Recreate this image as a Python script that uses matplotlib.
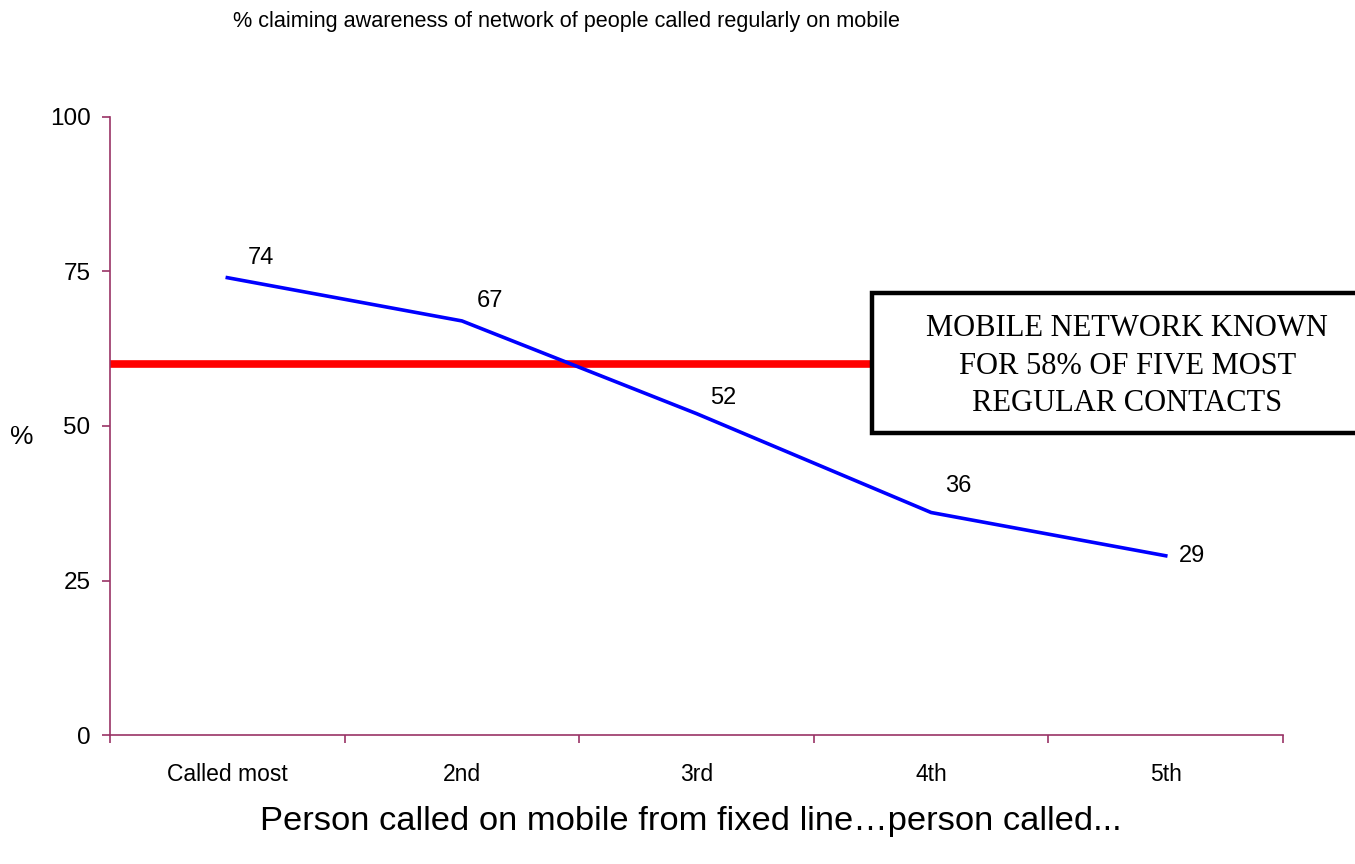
import matplotlib
matplotlib.use("Agg")
import matplotlib.pyplot as plt
from matplotlib.patches import Rectangle

# data
categories = ["Called most", "2nd", "3rd", "4th", "5th"]
values = [74, 67, 52, 36, 29]
average_line = 60
yticks = [0, 25, 50, 75, 100]
label_offsets = [(24, 14), (20, 14), (19.5, 11.5), (19.5, 19), (19, 0)]

axis_color = "#993366"

plt.rcParams["font.family"] = ["Liberation Sans", "DejaVu Sans"]

fig = plt.figure(figsize=(13.55, 8.64), dpi=100)
ax = fig.add_axes([0.0812, 0.1493, 0.8657, 0.7153])

x = list(range(1, len(categories) + 1))

ax.axhline(average_line, color="#FF0000", linewidth=5.5, zorder=2)
ax.plot(x, values, color="#0000FF", linewidth=2.6, zorder=3)

for xi, v, off in zip(x, values, label_offsets):
    ax.annotate(str(v), (xi, v), xytext=off, textcoords="offset points",
                ha="center", va="center", fontsize=17)

ax.set_xlim(0.5, 5.5)
ax.set_ylim(0, 100)
ax.set_yticks(yticks)
ax.set_xticks(x)
ax.set_xticklabels(categories, fontsize=16.5)
ax.set_xticks([0.5 + i for i in range(6)], minor=True)
ax.tick_params(axis="x", which="major", length=0, pad=20)
ax.tick_params(axis="x", which="minor", length=6, color=axis_color, width=1.2)
ax.tick_params(axis="y", length=6, color=axis_color, width=1.2, labelsize=17.5, pad=8)

for side in ["top", "right"]:
    ax.spines[side].set_visible(False)
for side in ["left", "bottom"]:
    ax.spines[side].set_color(axis_color)
    ax.spines[side].set_linewidth(1.2)

fig.text(0.0162, 0.494, "%", fontsize=19, ha="center", va="center")
fig.text(0.418, 0.975, "% claiming awareness of network of people called regularly on mobile",
         fontsize=15.6, ha="center", va="center")
fig.text(0.51, 0.049, "Person called on mobile from fixed line\u2026person called...",
         fontsize=24.8, ha="center", va="center")

# annotation box (runs off the right edge in the reference)
box = Rectangle((872 / 1355, (864 - 433) / 864), 0.40, 140 / 864,
                transform=fig.transFigure, facecolor="white", edgecolor="black",
                linewidth=3.2, zorder=5)
fig.add_artist(box)
fig.text(0.832, 0.576, "MOBILE NETWORK KNOWN\nFOR 58% OF FIVE MOST\nREGULAR CONTACTS",
         family=["Liberation Serif", "DejaVu Serif"], fontsize=22, ha="center",
         va="center", linespacing=1.38, zorder=6)

fig.savefig("out.png", dpi=100)
